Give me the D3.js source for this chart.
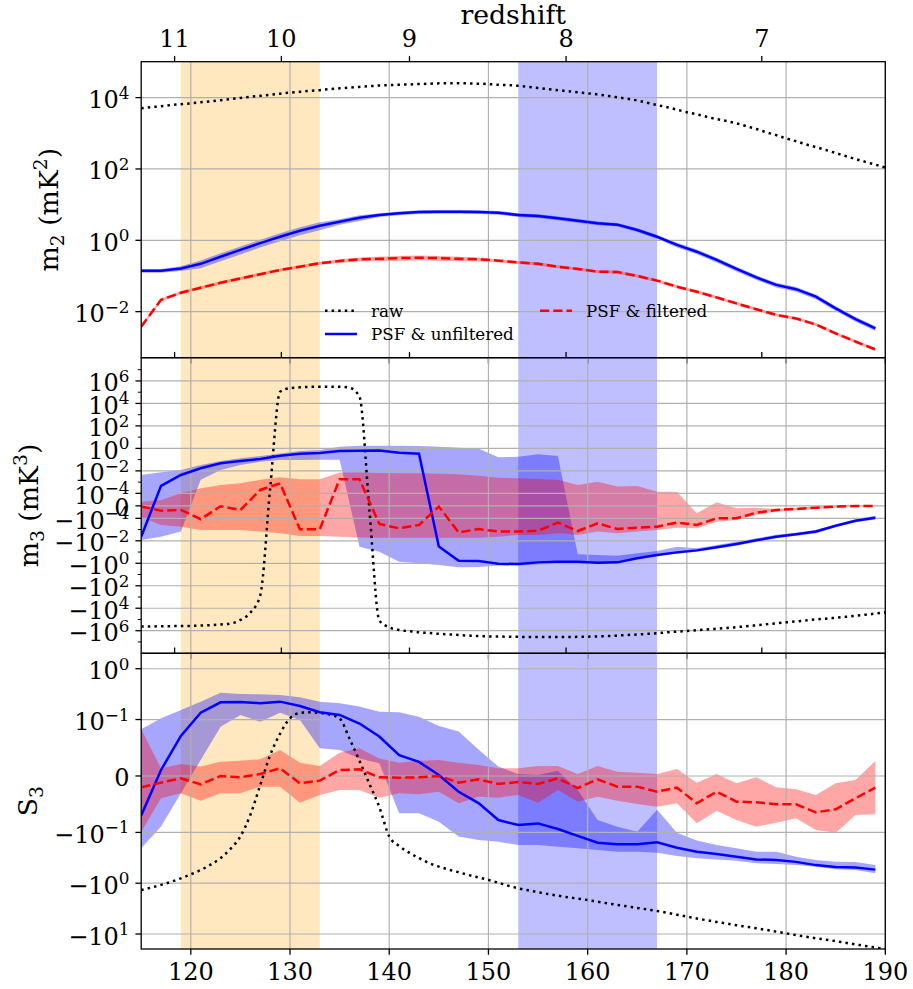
<!DOCTYPE html>
<html><head><meta charset="utf-8">
<script src="https://cdn.jsdelivr.net/npm/d3@7"></script>
<style>
body{margin:0;background:#fff;}
svg text{font-family:"DejaVu Serif",serif;fill:#000;}
</style></head><body>
<svg id="chart" width="913" height="989"></svg>
<script>
// ---------------- DATA ----------------
const freq=[115,117,119,121,123,125,127,129,131,133,135,137,139,141,143,145,147,149,151,153,155,157,159,161,163,165,167,169,171,173,175,177,179,181,183,185,187,189];
const rawFreq=[115,116,117,118,119,120,121,122,123,124,125,126,127,128,129,130,131,132,133,134,135,136,137,138,139,140,141,142,143,144,145,146,147,148,149,150,151,152,153,154,155,156,157,158,159,160,161,162,163,164,165,166,167,168,169,170,171,172,173,174,175,176,177,178,179,180,181,182,183,184,185,186,187,188,189,190];

// m2 panel
const m2Raw=[5.0e3,5.4e3,5.75e3,6.2e3,6.5e3,6.9e3,7.4e3,7.9e3,8.5e3,9.1e3,
 9.8e3,1.05e4,1.12e4,1.20e4,1.29e4,1.38e4,1.45e4,1.55e4,1.62e4,1.74e4,
 1.82e4,1.91e4,2.0e4,2.09e4,2.19e4,2.24e4,2.29e4,2.34e4,2.40e4,2.45e4,
 2.51e4,2.51e4,2.51e4,2.51e4,2.45e4,2.40e4,2.29e4,2.24e4,2.14e4,2.0e4,
 1.86e4,1.74e4,1.62e4,1.51e4,1.41e4,1.32e4,1.23e4,1.12e4,1.02e4,9.3e3,
 8.3e3,7.2e3,6.2e3,5.4e3,4.6e3,3.9e3,3.4e3,2.9e3,2.5e3,2.2e3,
 1.9e3,1.58e3,1.32e3,1.07e3,890,720,600,490,410,340,
 280,230,190,158,132,110];
const m2Blue=[0.141,0.141,0.162,0.219,0.347,0.537,0.832,1.26,1.86,2.57,
 3.31,4.27,5.13,5.75,6.17,6.31,6.31,6.17,5.89,5.13,
 4.79,4.17,3.55,3.02,2.75,1.95,1.26,0.741,0.479,0.282,
 0.158,0.0912,0.0562,0.0427,0.0263,0.0123,0.00617,0.00339];
const m2BlueErr=[0.12,0.12,0.15,0.25,0.25,0.25,0.25,0.25,0.25,0.25,
 0.18,0.18,0.12,0.12,0.12,0.12,0.12,0.12,0.12,0.12,
 0.12,0.12,0.12,0.12,0.12,0.12,0.12,0.15,0.15,0.15,
 0.15,0.15,0.15,0.15,0.15,0.15,0.15,0.15];
const m2Red=[0.0038,0.0214,0.0339,0.0468,0.0646,0.0851,0.112,0.148,0.182,0.229,
 0.263,0.295,0.302,0.316,0.324,0.316,0.302,0.295,0.269,0.240,
 0.219,0.182,0.158,0.132,0.129,0.100,0.0741,0.0501,0.0363,0.0251,
 0.0170,0.0117,0.00813,0.00646,0.00437,0.00245,0.00145,0.00087];
const m2RedErr=[0.1,0.1,0.1,0.1,0.1,0.1,0.1,0.1,0.1,0.1,
 0.12,0.12,0.15,0.15,0.15,0.15,0.15,0.12,0.1,0.1,
 0.1,0.1,0.1,0.1,0.1,0.1,0.1,0.1,0.1,0.1,
 0.1,0.1,0.1,0.1,0.1,0.1,0.1,0.1];

// m3 panel
const m3Raw=[-4.2e5,-4.2e5,-4.0e5,-3.9e5,-3.8e5,-3.7e5,-3.5e5,-3.2e5,-2.8e5,-2.3e5,
 -1.1e5,-2.5e4,-700,3e-4,1.1e5,2.3e5,2.7e5,3.0e5,3.1e5,3.1e5,
 3.0e5,2.5e5,4e4,-3e-5,-1.2e5,-5e5,-8.7e5,-1.1e6,-1.4e6,-1.6e6,
 -1.9e6,-2.1e6,-2.4e6,-2.7e6,-3.0e6,-3.2e6,-3.3e6,-3.4e6,-3.5e6,-3.6e6,
 -3.7e6,-3.7e6,-3.7e6,-3.6e6,-3.5e6,-3.4e6,-3.2e6,-3.0e6,-2.7e6,-2.4e6,
 -2.2e6,-1.9e6,-1.7e6,-1.4e6,-1.2e6,-1.05e6,-9e5,-7.8e5,-6.7e5,-5.7e5,
 -4.8e5,-4.0e5,-3.3e5,-2.7e5,-2.2e5,-1.8e5,-1.5e5,-1.2e5,-1.0e5,-8.5e4,
 -7e4,-5.8e4,-4.7e4,-3.8e4,-3.0e4,-2.3e4];
const m3Blue=[-4.3e-3,4.6e-4,4.3e-3,1.7e-2,4.7e-2,7.6e-2,0.115,0.22,0.34,0.39,
 0.59,0.63,0.66,0.41,0.34,-3.3e-2,-0.6,-0.63,-1.1,-1.15,
 -0.83,-0.72,-0.72,-0.89,-0.83,-0.36,-0.18,-0.107,-0.071,-0.038,
 -0.019,-9.1e-3,-4.3e-3,-2.6e-3,-1.5e-3,-4.6e-4,-1.65e-4,-9.5e-5];
const m3BlueHi=[4.3e-3,7.4e-3,1.2e-2,3.3e-2,7.6e-2,0.13,0.21,0.36,0.6,0.72,
 1.4,1.7,1.7,1.7,1.6,1.4,1.15,1.0,0.16,0.18,
 0.30,0.21,-0.16,-0.18,-0.21,-0.13,-0.081,-0.033,-0.047,-0.024,
 -0.012,-6e-3,-2.9e-3,-1.9e-3,-1.1e-3,-3.5e-4,-1.2e-4,-8e-5];
const m3BlueLo=[-8.5e-3,-4.3e-3,-1.5e-3,1.6e-3,0.012,0.033,0.066,0.093,0.093,0.10,
 0.10,-0.033,-0.093,-0.72,-1.0,-1.4,-2.2,-2.1,-1.6,-1.6,
 -1.2,-1.1,-1.0,-1.0,-0.89,-0.41,-0.22,-0.14,-0.093,-0.052,
 -0.027,-0.012,-6e-3,-3.6e-3,-2.2e-3,-6.2e-4,-2.2e-4,-1.3e-4];
const m3Red=[-5e-6,-3.9e-5,-3.3e-5,-1.2e-4,-3e-6,-3.3e-5,2.0e-4,7.8e-4,-9.5e-4,-9.5e-4,
 1.8e-3,1.8e-3,-3.2e-4,-7.8e-4,-3.9e-4,-6e-6,-1.8e-3,-8.9e-4,-1.5e-3,-1.5e-3,
 -1.26e-3,-2.4e-4,-1.35e-3,-2.8e-4,-8.9e-4,-6.8e-4,-5.5e-4,-2.4e-4,-3.9e-4,-1.0e-4,
 -1.0e-4,-5.5e-5,-3.3e-5,-2.5e-5,-1.5e-5,-6e-6,-2e-6,-1e-6];
const m3RedHi=[3.3e-5,4.7e-5,1.0e-4,2.8e-4,5.6e-4,7.8e-4,1.6e-3,2.7e-3,1.8e-3,1.8e-3,
 7e-3,7e-3,6.5e-3,6e-3,6e-3,5.5e-3,5.0e-3,3.7e-3,2.5e-3,2.2e-3,
 1.9e-3,1.6e-3,5.6e-4,1.1e-3,4.0e-4,4.6e-4,1.4e-4,1.4e-4,-5.9e-5,2.8e-5,
 -2e-5,-1.5e-5,-2.5e-5,-1.5e-5,-6e-6,-1e-6,1e-6,1e-6];
const m3RedLo=[-9.2e-5,-3.9e-4,-5.5e-4,-1.1e-3,-1.1e-3,-1.1e-3,-1.5e-3,-2.1e-3,-3.7e-3,-3.7e-3,
 -4.3e-3,-5e-3,-5.3e-3,-5.3e-3,-5.3e-3,-5.3e-3,-5.3e-3,-5.3e-3,-4.3e-3,-3.0e-3,
 -3.0e-3,-2.1e-3,-3.0e-3,-1.5e-3,-2.1e-3,-1.5e-3,-1.1e-3,-6.8e-4,-7.8e-4,-2.0e-4,
 -1.4e-4,-7.3e-5,-4.7e-5,-3.6e-5,-2.5e-5,-1.5e-5,-6e-6,-3e-6];

// S3 panel
const s3Raw=[-1.36,-1.22,-1.08,-0.94,-0.80,-0.67,-0.55,-0.43,-0.32,-0.21,
 -0.12,-0.069,-0.016,0.037,0.075,0.106,0.135,0.139,0.135,0.125,
 0.105,0.066,0.027,-0.014,-0.055,-0.12,-0.185,-0.25,-0.32,-0.40,
 -0.47,-0.54,-0.61,-0.69,-0.77,-0.86,-0.98,-1.12,-1.26,-1.38,
 -1.50,-1.63,-1.76,-1.89,-2.01,-2.14,-2.31,-2.49,-2.67,-2.86,
 -3.06,-3.28,-3.52,-3.82,-4.17,-4.55,-4.95,-5.35,-5.78,-6.22,
 -6.70,-7.18,-7.70,-8.30,-8.97,-9.69,-10.5,-11.3,-12.1,-12.9,
 -13.8,-14.9,-16.0,-17.2,-18.4,-19.7];
const s3Blue=[-0.070,0.0106,0.071,0.136,0.218,0.222,0.209,0.225,0.185,0.139,
 0.123,0.093,0.070,0.037,0.025,0.0018,-0.028,-0.048,-0.078,-0.087,
 -0.084,-0.094,-0.117,-0.159,-0.171,-0.171,-0.157,-0.20,-0.24,-0.266,
 -0.30,-0.34,-0.35,-0.38,-0.44,-0.48,-0.49,-0.54];
const s3BlueHi=[0.083,0.106,0.154,0.225,0.338,0.318,0.314,0.304,0.274,0.225,
 0.209,0.180,0.143,0.139,0.114,0.0886,0.0786,0.047,0.0166,0.0035,
 0.0018,0.0094,-0.0248,-0.078,-0.0898,-0.0987,-0.060,-0.101,-0.145,-0.177,
 -0.206,-0.239,-0.239,-0.30,-0.349,-0.377,-0.382,-0.438];
const s3BlueLo=[-0.206,-0.0897,-0.0307,0.0284,0.0874,0.123,0.096,0.136,0.099,0.049,
 0.046,0.031,0.0224,-0.066,-0.066,-0.081,-0.12,-0.141,-0.152,-0.177,
 -0.177,-0.191,-0.206,-0.222,-0.239,-0.239,-0.25,-0.291,-0.323,-0.34,
 -0.36,-0.405,-0.418,-0.438,-0.472,-0.532,-0.548,-0.639];
const s3Red=[-0.0201,-0.0118,-0.0041,-0.0148,0.0,-0.0024,0.0035,0.0136,-0.013,-0.0083,
 0.0106,0.0118,-0.0024,-0.003,-0.0024,0.0,-0.0118,-0.0059,-0.0142,-0.0106,
 -0.0142,-0.0041,-0.0213,-0.0059,-0.0189,-0.0189,-0.0278,-0.0207,-0.0484,-0.0278,
 -0.0455,-0.0466,-0.0502,-0.0502,-0.0644,-0.059,-0.0395,-0.0207];
const s3RedHi=[0.083,0.0136,0.0212,0.0166,0.0254,0.0272,0.0295,0.046,0.0236,0.0177,
 0.0413,0.049,0.031,0.0236,0.0272,0.0284,0.0236,0.0195,0.0136,0.0136,
 0.0177,0.0177,0.0035,0.0177,0.0076,0.0059,0.0035,0.0124,-0.0118,0.0035,
 -0.013,-0.0024,-0.0201,-0.0236,-0.0337,-0.013,-0.0071,0.0266];
const s3RedLo=[-0.0987,-0.0395,-0.0307,-0.0437,-0.0307,-0.0307,-0.0189,-0.0189,-0.0473,-0.0337,
 -0.0248,-0.0248,-0.0384,-0.0307,-0.0325,-0.0278,-0.0484,-0.0366,-0.0384,-0.0337,
 -0.0473,-0.0248,-0.0455,-0.0366,-0.0437,-0.0496,-0.0544,-0.0484,-0.0839,-0.0614,
 -0.078,-0.0898,-0.0827,-0.075,-0.0957,-0.101,-0.069,-0.0679];

// shaded frequency windows
const spanOrange=[119,133];
const spanBlue=[153,167];

// ticks
const xTicks=[120,130,140,150,160,170,180,190];
const xTickLabels=['120','130','140','150','160','170','180','190'];
const zTicks=[11,10,9,8,7];
const zTickLabels=['11','10','9','8','7'];
const m2Ticks=[1e-2,1,1e2,1e4];
const m2TickLabels=[['','\u22122'],['','0'],['','2'],['','4']];
const m3Ticks=[1e6,1e4,1e2,1,1e-2,1e-4,0,-1e-4,-1e-2,-1,-1e2,-1e4,-1e6];
const m3TickLabels=[['','6'],['','4'],['','2'],['','0'],['','\u22122'],['','\u22124'],null,
 ['\u2212','\u22124'],['\u2212','\u22122'],['\u2212','0'],['\u2212','2'],['\u2212','4'],['\u2212','6']];
const m3Minor=[1e7,1e5,1e3,10,1e-1,1e-3,-1e-3,-1e-1,-10,-1e3,-1e5,-1e7];
const s3Ticks=[1,0.1,0,-0.1,-1,-10];
const s3TickLabels=[['','0'],['','\u22121'],null,['\u2212','\u22121'],['\u2212','0'],['\u2212','1']];
const legendItems=['raw','PSF & unfiltered','PSF & filtered'];

// ---------------- LAYOUT ----------------
const L=141.2,R=885.3;
const panels=[{top:61.7,bot:357.7},{top:357.7,bot:653.3},{top:653.3,bot:949}];
const FS=24, SUP=16.8, LAB=26.7;
const svg=d3.select('#chart');
const defs=svg.append('defs');
panels.forEach((p,i)=>{
  defs.append('clipPath').attr('id','clip'+i).append('rect')
    .attr('x',L).attr('y',p.top).attr('width',R-L).attr('height',p.bot-p.top);
});

const x=d3.scaleLinear().domain([115,190]).range([L,R]);
function symlog(c){const a=1/(1-1/10);return v=>{const av=Math.abs(v);return av<=c? v/c*a : Math.sign(v)*(a+Math.log10(av/c));};}

const yTop=d3.scaleLog().domain([Math.pow(10,-3.291),Math.pow(10,5.007)]).range([panels[0].bot,panels[0].top]);
const tMid=symlog(1e-4);
const linMid=d3.scaleLinear().domain([-13.12,13.18]).range([panels[1].bot,panels[1].top]);
const yMid=v=>linMid(tMid(v));
const tBot=symlog(0.1);
const linBot=d3.scaleLinear().domain([-3.406,2.415]).range([panels[2].bot,panels[2].top]);
const yBot=v=>linBot(tBot(v));

const BLUE='#0000ff', RED='#ff0000';
const LW=2.5;

function tickLabel(g,xp,yp,lab){
  const t=g.append('text').attr('x',xp).attr('y',yp).attr('text-anchor','end').attr('font-size',FS);
  if(lab===null){t.text('0');return;}
  t.append('tspan').attr('font-size',FS).text(lab[0]+'10');
  t.append('tspan').attr('font-size',SUP).attr('dy',-9.5).text(lab[1]);
}

function drawPanel(i,yf,d,yTicks,yLabels,minor){
  const p=panels[i];
  const g=svg.append('g');
  const c=g.append('g').attr('clip-path',`url(#clip${i})`);
  [[spanOrange,'orange'],[spanBlue,'#0000ff']].forEach(([s,col])=>{
    c.append('rect').attr('x',x(s[0])).attr('width',x(s[1])-x(s[0]))
      .attr('y',p.top).attr('height',p.bot-p.top).attr('fill',col).attr('fill-opacity',0.25);
  });
  const area=d3.area().x((v,j)=>x(freq[j])).y0(v=>yf(v[0])).y1(v=>yf(v[1]));
  c.append('path').datum(d3.zip(d.blueLo,d.blueHi)).attr('d',area).attr('fill',BLUE).attr('fill-opacity',0.35);
  c.append('path').datum(d3.zip(d.redLo,d.redHi)).attr('d',area).attr('fill',RED).attr('fill-opacity',0.35);
  xTicks.forEach(t=>c.append('line').attr('x1',x(t)).attr('x2',x(t)).attr('y1',p.top).attr('y2',p.bot)
    .attr('stroke','#b0b0b0').attr('stroke-width',1.2));
  yTicks.forEach(t=>c.append('line').attr('x1',L).attr('x2',R).attr('y1',yf(t)).attr('y2',yf(t))
    .attr('stroke','#b0b0b0').attr('stroke-width',1.2));
  const rawLine=d3.line().x((v,j)=>x(rawFreq[j])).y(v=>yf(v)).curve(d3.curveMonotoneX);
  const line=d3.line().x((v,j)=>x(freq[j])).y(v=>yf(v));
  c.append('path').datum(d.raw).attr('d',rawLine).attr('fill','none').attr('stroke','#000')
    .attr('stroke-width',LW).attr('stroke-dasharray','2.5,4.1');
  c.append('path').datum(d.blue).attr('d',line).attr('fill','none').attr('stroke',BLUE).attr('stroke-width',LW);
  c.append('path').datum(d.red).attr('d',line).attr('fill','none').attr('stroke',RED)
    .attr('stroke-width',LW).attr('stroke-dasharray','9.25,4');
  g.append('rect').attr('x',L).attr('y',p.top).attr('width',R-L).attr('height',p.bot-p.top)
    .attr('fill','none').attr('stroke','#000').attr('stroke-width',1.3);
  yTicks.forEach((t,k)=>{
    const yy=yf(t);
    g.append('line').attr('x1',L-5.8).attr('x2',L).attr('y1',yy).attr('y2',yy).attr('stroke','#000').attr('stroke-width',1.3);
    tickLabel(g,129.5,yy+10.5,yLabels[k]);
  });
  (minor||[]).forEach(t=>{
    const yy=yf(t);
    g.append('line').attr('x1',L-3.3).attr('x2',L).attr('y1',yy).attr('y2',yy).attr('stroke','#000').attr('stroke-width',1);
  });
  xTicks.forEach(t=>g.append('line').attr('x1',x(t)).attr('x2',x(t)).attr('y1',p.bot).attr('y2',p.bot+5.8)
    .attr('stroke','#000').attr('stroke-width',1.3));
  zTicks.forEach(z=>{const xx=x(1420.405751/(1+z));
    g.append('line').attr('x1',xx).attr('x2',xx).attr('y1',p.top-5.8).attr('y2',p.top).attr('stroke','#000').attr('stroke-width',1.3);});
  return g;
}

drawPanel(0,yTop,{raw:m2Raw,blue:m2Blue,red:m2Red,
  blueLo:m2Blue.map((v,j)=>v*(1-m2BlueErr[j])),blueHi:m2Blue.map((v,j)=>v*(1+m2BlueErr[j])),
  redLo:m2Red.map((v,j)=>v*(1-m2RedErr[j])),redHi:m2Red.map((v,j)=>v*(1+m2RedErr[j]))},
  m2Ticks,m2TickLabels,null);
drawPanel(1,yMid,{raw:m3Raw,blue:m3Blue,red:m3Red,blueLo:m3BlueLo,blueHi:m3BlueHi,redLo:m3RedLo,redHi:m3RedHi},
  m3Ticks,m3TickLabels,m3Minor);
drawPanel(2,yBot,{raw:s3Raw,blue:s3Blue,red:s3Red,blueLo:s3BlueLo,blueHi:s3BlueHi,redLo:s3RedLo,redHi:s3RedHi},
  s3Ticks,s3TickLabels,null);

xTicks.forEach((t,k)=>svg.append('text').attr('x',x(t)).attr('y',980).attr('text-anchor','middle')
  .attr('font-size',FS).text(xTickLabels[k]));
zTicks.forEach((z,k)=>svg.append('text').attr('x',x(1420.405751/(1+z))).attr('y',47).attr('text-anchor','middle')
  .attr('font-size',FS).text(zTickLabels[k]));
svg.append('text').attr('x',(L+R)/2).attr('y',24).attr('text-anchor','middle').attr('font-size',LAB).text('redshift');

// y labels: parts = [text, size factor, dy]
function yLabel(xp,yc,parts){
  const t=svg.append('text').attr('transform',`translate(${xp},${yc}) rotate(-90)`).attr('text-anchor','middle').attr('font-size',LAB);
  parts.forEach(pt=>{t.append('tspan').attr('font-size',LAB*pt[1]).attr('dy',pt[2]).text(pt[0]);});
}
yLabel(58,(panels[0].top+panels[0].bot)/2,[['m',1,0],['2',0.7,6],[' (mK',1,-6],['2',0.7,-11],[')',1,11]]);
yLabel(38,(panels[1].top+panels[1].bot)/2,[['m',1,0],['3',0.7,6],[' (mK',1,-6],['3',0.7,-11],[')',1,11]]);
yLabel(37,(panels[2].top+panels[2].bot)/2,[['S',1,0],['3',0.7,6]]);

// legend
const lg=svg.append('g');
const leg=[{x:325,y:310.7,dash:'2.5,4.1',col:'#000'},{x:325,y:334,dash:null,col:BLUE},{x:540,y:310.7,dash:'9.25,4',col:RED}];
leg.forEach((e,k)=>{
  const l=lg.append('line').attr('x1',e.x).attr('x2',e.x+32).attr('y1',e.y).attr('y2',e.y)
    .attr('stroke',e.col).attr('stroke-width',LW);
  if(e.dash) l.attr('stroke-dasharray',e.dash);
  lg.append('text').attr('x',e.x+46).attr('y',e.y+5.8).attr('font-size',16.7).text(legendItems[k]);
});
</script>
</body></html>
